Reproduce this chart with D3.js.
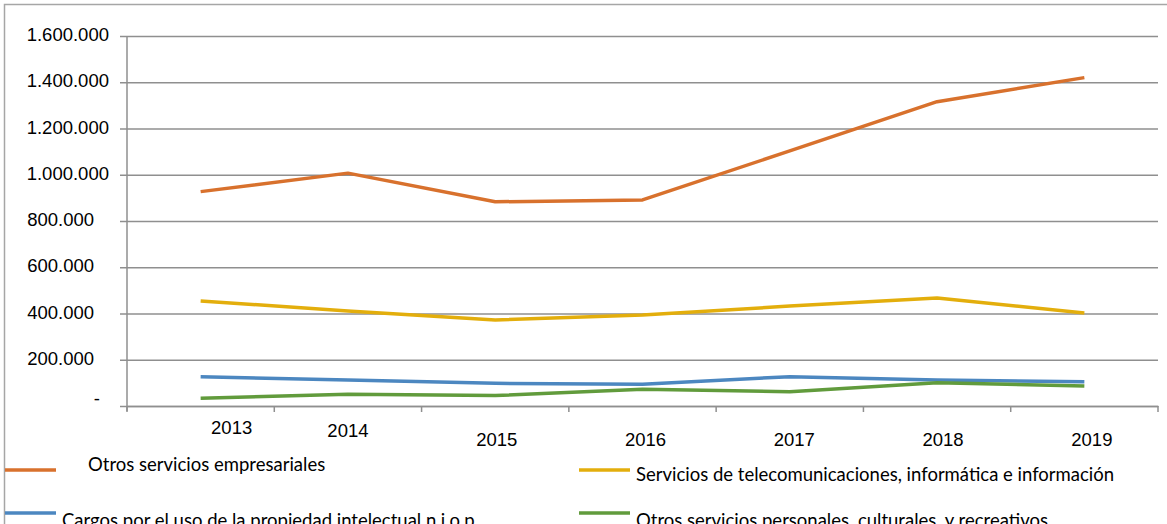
<!DOCTYPE html>
<html>
<head>
<meta charset="utf-8">
<script src="https://cdn.jsdelivr.net/npm/d3@7"></script>
<style>
  body { margin: 0; background: #fff; }
  svg { display: block; font-family: Lato, "Open Sans", sans-serif; }
  .axis text { font-size: 18.5px; fill: #000; }
  .legend text { font-size: 18.5px; fill: #000; }
</style>
</head>
<body>
<svg width="1167" height="524"></svg>
<script>
// data
var years = ["2013", "2014", "2015", "2016", "2017", "2018", "2019"];
var yTicks = [0, 200000, 400000, 600000, 800000, 1000000, 1200000, 1400000, 1600000];

var empresariales = [927000, 1007000, 883000, 891000, 1103000, 1316000, 1420000];
var telecom = [454000, 411000, 372000, 393000, 432000, 467000, 402000];
var propiedad = [127000, 112000, 98000, 94000, 127000, 112000, 105000];
var personales = [33000, 51000, 45000, 72000, 62000, 101000, 86000];

var seriesNames = [
  "Otros servicios empresariales",
  "Servicios de telecomunicaciones, informática e información",
  "Cargos por el uso de la propiedad intelectual n.i.o.p.",
  "Otros servicios personales, culturales, y recreativos"
];
var seriesColors = ["#d8712d", "#e3ae0c", "#4c87c0", "#619b3c"];

var svg = d3.select("svg");

// outer frame
svg.append("rect")
  .attr("x", 4.5).attr("y", 4.5)
  .attr("width", 1300).attr("height", 700)
  .attr("fill", "none")
  .attr("stroke", "#a6a6a6")
  .attr("stroke-width", 1.5);

var x = d3.scaleBand().domain(years).range([127, 1158]),
    y = d3.scaleLinear().domain([0, 1600000]).range([406, 36]);

var loc = d3.formatLocale({decimal: ",", thousands: ".", grouping: [3], currency: ["", ""]});
var fmt = loc.format(",");

// Y axis with gridlines
var gy = svg.append("g")
  .attr("class", "axis axis--y")
  .attr("transform", "translate(127,0)")
  .call(d3.axisLeft(y).tickValues(yTicks).tickSize(0).tickFormat(function(d) { return d === 0 ? "-" : fmt(d); }));
gy.select(".domain").remove();
gy.selectAll(".tick line")
  .attr("x1", -7).attr("x2", 1158 - 127)
  .attr("stroke", "#8f8f8f").attr("stroke-width", 1.5);
gy.selectAll(".tick text")
  .attr("x", function(d) { return d >= 1000000 ? -18 : (d === 0 ? -27 : -33); })
  .attr("dy", function(d) { return d === 0 ? "-0.1em" : "0.25em"; });

svg.append("line")
  .attr("x1", 127).attr("x2", 127)
  .attr("y1", 36).attr("y2", 411)
  .attr("stroke", "#8f8f8f").attr("stroke-width", 1.5);

// X axis: ticks sit on the band edges
var gx = svg.append("g")
  .attr("class", "axis axis--x")
  .attr("transform", "translate(0,406)")
  .call(d3.axisBottom(x).tickSize(0).tickSizeOuter(0));
gx.select(".domain")
  .attr("stroke", "#8f8f8f").attr("stroke-width", 1.5);
gx.selectAll(".tick text")
  .attr("dx", function(d, i) { return i === 0 ? 31 : (i - 1) * 1.5; })
  .attr("y", function(d, i) { return i === 0 ? 28 : (i === 1 ? 31 : 40); })
  .attr("dy", 0);
var edges = years.map(function(d) { return x(d); }).concat([x.range()[1]]);
gx.selectAll(".edge")
  .data(edges)
  .enter().append("line")
  .attr("class", "edge")
  .attr("x1", function(d) { return d; }).attr("x2", function(d) { return d; })
  .attr("y1", 0).attr("y2", 6)
  .attr("stroke", "#8f8f8f").attr("stroke-width", 1.5);

// lines
var series = [empresariales, telecom, propiedad, personales].map(function(vals, i) {
  return {
    name: seriesNames[i],
    color: seriesColors[i],
    values: years.map(function(yr, j) { return {year: yr, value: vals[j]}; })
  };
});

var line = d3.line()
  .x(function(d) { return x(d.year) + x.bandwidth() / 2; })
  .y(function(d) { return y(d.value); });

svg.selectAll(".serie")
  .data(series)
  .enter().append("path")
  .attr("class", "serie")
  .attr("d", function(d) { return line(d.values); })
  .attr("fill", "none")
  .attr("stroke", function(d) { return d.color; })
  .attr("stroke-width", 3.5)
  .attr("stroke-linejoin", "round");

// legend, two columns
var legend = svg.append("g").attr("class", "legend");
var item = legend.selectAll(".item")
  .data(series)
  .enter().append("g")
  .attr("class", "item")
  .attr("transform", function(d, i) {
    return "translate(" + (i % 2 === 0 ? 5 : 579) + "," + (i < 2 ? 470 : 513) + ")";
  });
item.append("line")
  .attr("x1", 0).attr("x2", 51)
  .attr("stroke", function(d) { return d.color; })
  .attr("stroke-width", 3.5);
item.append("text")
  .attr("x", function(d, i) { return i === 0 ? 83 : (i === 2 ? 57 : 57); })
  .attr("y", function(d, i) { return i === 0 ? 1 : (i === 1 ? 11 : 14); })
  .text(function(d) { return d.name; });
</script>
</body>
</html>
